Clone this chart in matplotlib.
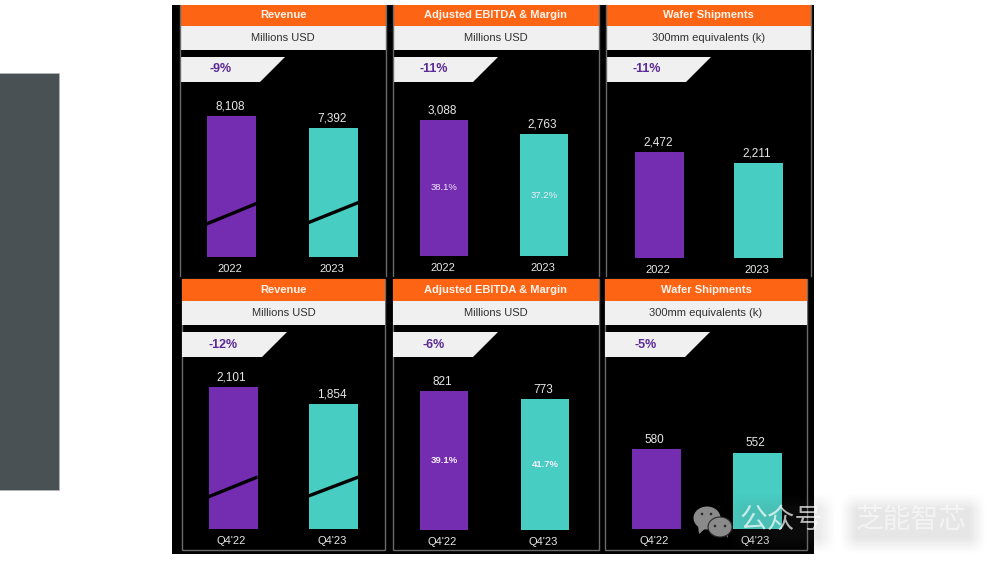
import matplotlib
matplotlib.use('Agg')
import matplotlib.pyplot as plt
import numpy as np
from matplotlib.patches import Rectangle, Polygon, Ellipse, Circle

plt.rcParams['font.family'] = ['Liberation Sans', 'Noto Sans CJK SC', 'DejaVu Sans']

W, H = 1000, 563
ORANGE = '#fd6414'
LIGHT = '#f0f0f0'
PURPLE = '#742cb0'
TEAL = '#47cdc2'
BORDER = '#6a6a6a'
TXT = '#e8e8e8'

titles = ['Revenue', 'Adjusted EBITDA & Margin', 'Wafer Shipments']
units = ['Millions USD', 'Millions USD', '300mm equivalents (k)']

year_labels = ['2022', '2023']
quarter_labels = ["Q4'22", "Q4'23"]

revenue_year = [8108, 7392]
ebitda_year = [3088, 2763]
wafer_year = [2472, 2211]
revenue_q = [2101, 1854]
ebitda_q = [821, 773]
wafer_q = [580, 552]

margin_year = ['38.1%', '37.2%']
margin_q = ['39.1%', '41.7%']

change_year = ['-9%', '-11%', '-11%']
change_q = ['-12%', '-6%', '-5%']

fig = plt.figure(figsize=(W / 100, H / 100), dpi=100, facecolor='white')
bg = fig.add_axes([0, 0, 1, 1])
bg.set_xlim(0, W)
bg.set_ylim(H, 0)
bg.axis('off')

bg.add_patch(Rectangle((-3, 73), 62, 417, fc='#4a5154', ec='#b5b8b8', lw=0.5))
bg.add_patch(Rectangle((172, 5), 642, 549, fc='black', ec='none'))


def panel(x0, x1, y0, y1, y_mid, y_bot, title, unit, change, closed=True):
    # frame, header strips, and the slanted change tag
    if closed:
        bg.add_patch(Rectangle((x0, y0), x1 - x0, y1 - y0, fc='black', ec=BORDER, lw=1))
    else:
        bg.plot([x0, x0], [y0, y1], color=BORDER, lw=1)
        bg.plot([x1, x1], [y0, y1], color=BORDER, lw=1)
    bg.add_patch(Rectangle((x0, y0), x1 - x0, y_mid - y0, fc=ORANGE, ec='none'))
    bg.add_patch(Rectangle((x0, y_mid), x1 - x0, y_bot - y_mid, fc=LIGHT, ec='none'))
    xc = (x0 + x1) / 2
    bg.text(xc, (y0 + y_mid) / 2, title, color='#fff4ec', fontsize=8, fontweight='bold',
            ha='center', va='center')
    bg.text(xc, (y_mid + y_bot) / 2, unit, color='#303030', fontsize=8,
            ha='center', va='center')
    t0 = y_bot + 7
    t1 = t0 + 25
    bg.add_patch(Polygon([(x0, t0), (x0 + 105, t0), (x0 + 80, t1), (x0, t1)], fc=LIGHT, ec='none'))
    bg.text(x0 + 41, (t0 + t1) / 2, change, color='#5b2a96', fontsize=9, fontweight='bold',
            ha='center', va='center')


def bars(c0, c1, width, base, top, values, labels, margins=None, bold_margin=False):
    # axes runs from the baseline up to the top of the first bar
    left = c0 - width / 2
    right = c1 + width / 2
    ax = fig.add_axes([left / W, 1 - base / H, (right - left) / W, (base - top) / H])
    ax.set_xlim(-0.5 * width / (c1 - c0), 1 + 0.5 * width / (c1 - c0))
    ax.set_ylim(0, values[0])
    ax.axis('off')
    ax.patch.set_alpha(0)
    ax.bar([0, 1], values, width=width / (c1 - c0), color=[PURPLE, TEAL], clip_on=False)
    for i, v in enumerate(values):
        ax.annotate(f'{v:,}', (i, v), xytext=(-1, 2.5), textcoords='offset points', color=TXT,
                    fontsize=8.5, ha='center', va='bottom', annotation_clip=False)
        ax.annotate(labels[i], (i, 0), xytext=(-1, -8.5), textcoords='offset points', color=TXT,
                    fontsize=8, ha='center', va='center', annotation_clip=False)
        if margins:
            ax.text(i, v * 0.5, margins[i], color='#f4ecfa', fontsize=6.8, ha='center', va='center',
                    fontweight='bold' if bold_margin else 'normal')


panel(180, 386, 5, 276, 26, 50, titles[0], units[0], change_year[0], closed=False)
panel(393, 599, 5, 276, 26, 50, titles[1], units[1], change_year[1], closed=False)
panel(606, 811, 5, 276, 26, 50, titles[2], units[2], change_year[2], closed=False)
panel(182, 385, 279, 549.5, 301, 325, titles[0], units[0], change_q[0])
panel(393, 599, 279, 549.5, 301, 325, titles[1], units[1], change_q[1])
panel(605, 807, 279, 549.5, 301, 325, titles[2], units[2], change_q[2])

bars(231.5, 333, 49, 257, 116, revenue_year, year_labels)
bars(444, 544, 48, 256, 120, ebitda_year, year_labels, margin_year)
bars(659.5, 758, 49, 258, 152, wafer_year, year_labels)
bars(233, 333.5, 49, 529, 387, revenue_q, quarter_labels)
bars(444, 545, 48, 530, 391, ebitda_q, quarter_labels, margin_q, bold_margin=True)
bars(656, 757, 49, 529, 449, wafer_q, quarter_labels)

# axes for the bars sit above bg, so the breaks go in their own top layer
top = fig.add_axes([0, 0, 1, 1], zorder=10)
top.set_xlim(0, W)
top.set_ylim(H, 0)
top.axis('off')
top.patch.set_alpha(0)


def slash(x0, x1, y0, y1):
    top.plot([x0, x1], [y0, y1], color='black', lw=2.4, zorder=20, solid_capstyle='butt')


slash(206.5, 256.5, 224, 203.5)
slash(307.5, 358.5, 223, 202.5)
slash(208, 257.5, 497, 477)
slash(308.5, 358.5, 496, 477)

# watermark: blurred backdrop, icon and white text
yy, xx = np.mgrid[485:560, 725:1000]


def soft(a, b, v, s=16.0):
    return np.clip((v - a) / s, 0, 1) * np.clip((b - v) / s, 0, 1)


mask = soft(840, 985, xx) * soft(493, 553, yy) * 0.15 + soft(728, 835, xx) * soft(493, 553, yy) * 0.12
rgba = np.zeros(mask.shape + (4,))
rgba[..., :3] = 0.35
rgba[..., 3] = mask
top.imshow(rgba, extent=(725, 1000, 560, 485), aspect='auto', interpolation='bilinear', zorder=30)
top.set_xlim(0, W)
top.set_ylim(H, 0)
icon = '#8a8a8a'
top.add_patch(Polygon([(698, 525), (699, 534), (707, 527)], fc=icon, ec='none', zorder=31))
top.add_patch(Ellipse((707, 518), 27, 23, fc=icon, ec='none', zorder=31))
top.add_patch(Polygon([(724, 533), (728, 538), (727, 530)], fc=icon, ec='none', zorder=32))
top.add_patch(Ellipse((720, 527), 24, 20, fc=icon, ec='#2a2a2a', lw=0.8, zorder=32))
for ex, ey in [(702, 514), (711, 514), (715, 526), (725, 526)]:
    top.add_patch(Circle((ex, ey), 1.3, fc='#2a2a2a', ec='none', zorder=33))
top.text(781, 520, '公众号', color='white', alpha=0.7, fontsize=20, ha='center', va='center',
         family=['Noto Sans CJK SC', 'DejaVu Sans'], zorder=34)
top.text(911, 520, '芝能智芯', color='white', alpha=0.55, fontsize=20, ha='center', va='center',
         family=['Noto Sans CJK SC', 'DejaVu Sans'], zorder=34)

fig.savefig('out.png', dpi=100)
